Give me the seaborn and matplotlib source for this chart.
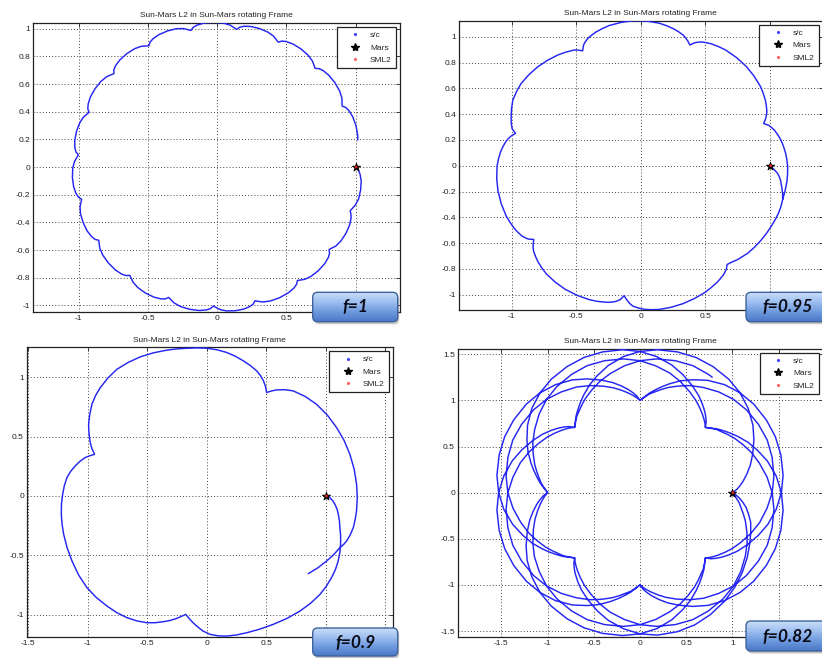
import numpy as np
import pandas as pd
import matplotlib
matplotlib.use("Agg")
import matplotlib.pyplot as plt
import seaborn as sns
from matplotlib.patches import FancyBboxPatch
from matplotlib.lines import Line2D
from matplotlib.ticker import FixedLocator, FixedFormatter
from matplotlib.colors import LinearSegmentedColormap

sns.set_style("white")
plt.rcParams["font.family"] = ["Liberation Sans", "DejaVu Sans"]
plt.rcParams["axes.unicode_minus"] = False

# ---------------- data (polar readings: angle in degrees, radius) ----------------
# f = 1
th_f1 = [0, -1.1, -2.7, -5.5, -9.1, -12.7, -15.5, -18.2,
         -19.3, -20.9, -23.7, -27.3, -30.9, -33.7, -36.4,
         -37.5, -39.1, -41.9, -45.6, -49.2, -52.0, -54.7,
         -55.9, -57.6, -60.6, -64.5, -68.3, -71.3, -74.2,
         -75.2, -76.8, -79.4, -82.9, -86.3, -88.9, -91.5,
         -92.6, -94.3, -97.1, -100.9, -104.7, -107.5, -110.3,
         -111.4, -113.1, -115.9, -119.6, -123.3, -126.0, -128.8,
         -130.0, -131.7, -134.6, -138.5, -142.4, -145.3, -148.2,
         -149.3, -151.0, -153.7, -157.4, -161.1, -163.8, -166.6,
         -167.7, -169.4, -172.1, -175.8, -179.5, -182.2, -185.0,
         -186.1, -187.7, -190.5, -194.1, -197.7, -200.5, -203.2,
         -204.3, -206.1, -208.9, -212.7, -216.5, -219.4, -222.2,
         -223.3, -225.0, -227.8, -231.5, -235.2, -237.9, -240.7,
         -241.8, -243.5, -246.3, -250.0, -253.7, -256.4, -259.2,
         -260.3, -262.0, -264.9, -268.7, -272.4, -275.3, -278.1,
         -279.2, -280.8, -283.5, -287.1, -290.7, -293.4, -296.1,
         -297.2, -298.9, -301.7, -305.5, -309.2, -312.0, -314.8,
         -316.0, -317.7, -320.6, -324.4, -328.2, -331.1, -334.0,
         -335.1, -336.8, -339.6, -343.3, -347.0, -349.1]
r_f1 = [1.0, 1.02, 1.033, 1.046, 1.05, 1.048, 1.035, 1.012,
        1.024, 1.036, 1.045, 1.047, 1.042, 1.03, 1.005,
        1.024, 1.036, 1.045, 1.047, 1.042, 1.03, 1.005,
        1.024, 1.036, 1.045, 1.047, 1.042, 1.03, 1.005,
        1.024, 1.036, 1.045, 1.047, 1.042, 1.03, 1.005,
        1.024, 1.036, 1.045, 1.047, 1.042, 1.03, 1.005,
        1.024, 1.036, 1.045, 1.047, 1.042, 1.03, 1.005,
        1.024, 1.036, 1.045, 1.047, 1.042, 1.03, 1.005,
        1.024, 1.036, 1.045, 1.047, 1.042, 1.03, 1.005,
        1.024, 1.036, 1.045, 1.047, 1.042, 1.03, 1.005,
        1.024, 1.036, 1.045, 1.047, 1.042, 1.03, 1.005,
        1.024, 1.036, 1.045, 1.047, 1.042, 1.03, 1.005,
        1.024, 1.036, 1.045, 1.047, 1.042, 1.03, 1.005,
        1.024, 1.036, 1.045, 1.047, 1.042, 1.03, 1.005,
        1.024, 1.036, 1.045, 1.047, 1.042, 1.03, 1.005,
        1.024, 1.036, 1.045, 1.047, 1.042, 1.03, 1.005,
        1.024, 1.036, 1.045, 1.047, 1.042, 1.03, 1.005,
        1.024, 1.036, 1.045, 1.047, 1.042, 1.03, 1.005,
        1.024, 1.036, 1.045, 1.047, 1.042, 1.035]

# f = 0.95
th_f95 = [0, -1.5, -3.2, -4.6, -6.0, -8.5, -11.0, -13.4, -16.2, -19.0, -22.0, -25.1, -28.5, -32.0, -35.7, -39.4, -42.0, -44.0, -47.0, -48.9,
          -50.4, -52.8, -54.8, -56.9, -59.9, -62.9, -68.0, -73.1, -78.0, -82.8, -85.7, -88.6, -90.9, -93.2, -94.5, -95.7, -96.5, -97.3,
          -98.7, -99.9, -101.1, -103.1, -105.2, -108.2, -111.2, -116.3, -121.4, -126.2, -131.0, -133.9, -136.7, -139.0, -141.3, -142.6, -143.8, -145.4,
          -146.9, -148.1, -149.3, -151.4, -153.5, -156.6, -159.6, -164.8, -170.0, -174.9, -179.8, -182.8, -185.7, -188.0, -190.3, -191.6, -192.9, -194.5,
          -196.0, -198.3, -200.7, -203.9, -207.2, -210.9, -214.5, -219.2, -223.9, -228.6, -233.2, -236.7, -240.2, -241.7, -243.2,
          -244.7, -245.9, -247.1, -249.2, -251.3, -254.4, -257.4, -262.6, -267.7, -272.6, -277.4, -280.4, -283.3, -285.6, -287.9, -289.2, -290.5, -292.1,
          -293.6, -294.8, -296.0, -298.1, -300.2, -303.3, -306.3, -311.5, -316.6, -321.5, -326.3, -329.3, -332.2, -334.5, -336.8, -338.1, -339.4, -341.0,
          -342.5, -343.8, -345.0, -347.3, -349.6, -352.3, -355.0, -357.7, -360.4, -363.2, -366.0, -369.7, -373.4]
r_f95 = [1.0, 1.03, 1.061, 1.076, 1.088, 1.103, 1.118, 1.129, 1.13, 1.128, 1.121, 1.113, 1.105, 1.095, 1.083, 1.07, 1.055, 1.045, 1.025, 1.016,
         1.04, 1.06, 1.07, 1.08, 1.09, 1.1, 1.11, 1.118, 1.122, 1.123, 1.119, 1.113, 1.103, 1.09, 1.072, 1.05, 1.033, 1.016,
         1.05, 1.064, 1.075, 1.087, 1.095, 1.105, 1.112, 1.119, 1.122, 1.119, 1.112, 1.102, 1.09, 1.077, 1.062, 1.048, 1.032, 1.006,
         1.04, 1.055, 1.068, 1.081, 1.092, 1.103, 1.112, 1.119, 1.122, 1.119, 1.112, 1.102, 1.09, 1.076, 1.06, 1.046, 1.03, 1.001,
         1.035, 1.056, 1.072, 1.094, 1.113, 1.12, 1.124, 1.117, 1.106, 1.09, 1.072, 1.054, 1.034, 1.018, 0.998,
         1.035, 1.052, 1.065, 1.08, 1.092, 1.104, 1.114, 1.122, 1.126, 1.122, 1.114, 1.104, 1.092, 1.08, 1.065, 1.051, 1.035, 1.01,
         1.04, 1.055, 1.068, 1.081, 1.092, 1.103, 1.112, 1.119, 1.122, 1.119, 1.112, 1.102, 1.09, 1.077, 1.062, 1.048, 1.032, 1.006,
         1.04, 1.056, 1.07, 1.088, 1.103, 1.115, 1.125, 1.132, 1.137, 1.138, 1.138, 1.134, 1.129]

# f = 0.9
th_f9 = [0, -0.8, -2.2, -3.7, -5.7, -7.9, -10.6, -13.4, -16.6, -19.9, -23.1, -26.4, -29.8, -33.3, -37.2, -41.1,
         -46.0, -51.1, -56.8, -62.7, -68.2, -73.7, -77.8, -81.9, -85.3, -88.6, -91.6, -94.4, -96.4, -98.2, -100.0,
         -103.7, -106.3, -109.0, -112.1, -115.2, -119.2, -123.2, -127.6, -132.1, -137.3, -142.5, -148.3, -154.2,
         -159.6, -165.0, -168.9, -172.8, -176.8, -180.7, -184.1, -187.5, -190.2, -192.9, -195.3, -197.6, -199.0, -200.4,
         -202.5, -204.5, -206.5, -208.9, -211.3, -215.0, -218.7, -222.1, -225.6, -230.1, -234.7, -239.6, -244.5,
         -249.6, -254.7, -258.5, -262.3, -266.2, -270.0, -274.0, -277.9, -281.5, -285.1, -288.4, -291.7, -294.0,
         -296.2, -298.2, -300.0,
         -301.6, -303.3, -306.3, -309.4, -314.7, -320.1, -326.1, -332.2, -337.9, -343.7, -349.6, -355.5, -360.6,
         -365.7, -369.0, -372.2, -375.0, -377.9, -379.6, -381.3, -385.0, -388.6, -393.0, -397.5]
r_f9 = [1.0, 1.035, 1.06, 1.079, 1.1, 1.116, 1.134, 1.15, 1.174, 1.196, 1.216, 1.233, 1.246, 1.254, 1.26, 1.262,
        1.256, 1.246, 1.232, 1.217, 1.207, 1.2, 1.197, 1.192, 1.182, 1.166, 1.138, 1.099, 1.07, 1.042, 1.013,
        1.061, 1.092, 1.12, 1.152, 1.18, 1.205, 1.225, 1.24, 1.25, 1.262, 1.269, 1.266, 1.258,
        1.252, 1.245, 1.239, 1.232, 1.223, 1.211, 1.2, 1.185, 1.163, 1.134, 1.105, 1.071, 1.04, 1.006,
        1.045, 1.075, 1.101, 1.132, 1.162, 1.2, 1.236, 1.26, 1.278, 1.295, 1.307, 1.304, 1.298,
        1.286, 1.273, 1.264, 1.255, 1.25, 1.244, 1.234, 1.22, 1.201, 1.179, 1.158, 1.134, 1.11,
        1.08, 1.045, 1.006,
        1.038, 1.069, 1.11, 1.145, 1.178, 1.203, 1.221, 1.234, 1.245, 1.253, 1.259, 1.263, 1.265,
        1.265, 1.263, 1.26, 1.25, 1.235, 1.22, 1.2, 1.175, 1.146, 1.112, 1.075]

# f = 0.82  -- first series of loops
th_f82_a = [0, -1.5, -3, -5.5, -8, -11.5, -15, -20, -25, -31, -38, -45, -52, -60, -67.5, -75, -83, -90, -97, -104, -110, -116, -121, -125, -128.5, -131, -133, -135,
            -136.5, -138, -140.5, -143, -146.5, -150, -155, -160, -166, -173, -180, -187, -195, -202.5, -210, -218, -225, -232, -239, -245, -251, -256, -260, -263.5, -266, -268, -270,
            -271.5, -273, -275.5, -278, -281.5, -285, -290, -295, -301, -308, -315, -322, -330, -337.5, -345, -353, -360, -367, -374, -380, -386, -391, -395, -398.5, -401, -403, -405,
            -406.5, -408, -410.5, -413, -416.5, -420, -425, -430, -436, -443, -450, -457, -465, -472.5, -480, -488, -495, -502, -509, -515, -521, -526, -530, -533.5, -536, -538, -540,
            -541.5, -543, -545.5, -548, -551.5, -555, -560, -565, -571, -578, -585, -592, -600, -607.5, -615, -623, -630, -637, -644, -650, -656, -661, -665, -668.5, -671, -673, -675,
            -676.5, -678, -680.5, -683, -686.5, -690, -695, -700, -706, -713, -720, -727, -735, -742.5, -750, -758, -765, -772, -779, -785, -791, -796, -800, -803.5, -806, -808, -810,
            -811.5, -813, -815.5, -818, -821.5, -825, -830, -835, -841, -848, -855, -862, -870, -877.5, -885, -893, -900, -907, -914, -920, -926, -931, -935, -938.5, -941, -943, -945,
            -946.5, -948, -950.5, -953, -956.5, -960, -965, -970, -976, -983, -990, -997, -1005, -1012.5, -1020, -1028, -1035, -1042, -1049, -1055, -1061, -1066, -1070, -1073.5, -1076, -1078, -1080]
r_f82_a = [1.0, 1.04, 1.075, 1.12, 1.16, 1.20, 1.24, 1.275, 1.31, 1.355, 1.405, 1.45, 1.49, 1.525, 1.55, 1.56, 1.555, 1.53, 1.485, 1.425, 1.36, 1.29, 1.23, 1.175, 1.125, 1.085, 1.05, 1.0,
           1.022, 1.045, 1.085, 1.12, 1.17, 1.22, 1.29, 1.35, 1.42, 1.485, 1.53, 1.56, 1.578, 1.585, 1.578, 1.56, 1.53, 1.485, 1.425, 1.36, 1.29, 1.23, 1.175, 1.125, 1.085, 1.05, 1.0,
           1.022, 1.045, 1.085, 1.12, 1.17, 1.22, 1.29, 1.35, 1.42, 1.485, 1.53, 1.56, 1.578, 1.585, 1.578, 1.56, 1.53, 1.485, 1.425, 1.36, 1.29, 1.23, 1.175, 1.125, 1.085, 1.05, 1.0,
           1.022, 1.045, 1.085, 1.12, 1.17, 1.22, 1.29, 1.35, 1.42, 1.485, 1.53, 1.56, 1.578, 1.585, 1.578, 1.56, 1.53, 1.485, 1.425, 1.36, 1.29, 1.23, 1.175, 1.125, 1.085, 1.05, 1.0,
           1.022, 1.045, 1.085, 1.12, 1.17, 1.22, 1.29, 1.35, 1.42, 1.485, 1.53, 1.56, 1.578, 1.585, 1.578, 1.56, 1.53, 1.485, 1.425, 1.36, 1.29, 1.23, 1.175, 1.125, 1.085, 1.05, 1.0,
           1.022, 1.045, 1.085, 1.12, 1.17, 1.22, 1.29, 1.35, 1.42, 1.485, 1.53, 1.56, 1.578, 1.585, 1.578, 1.56, 1.53, 1.485, 1.425, 1.36, 1.29, 1.23, 1.175, 1.125, 1.085, 1.05, 1.0,
           1.022, 1.045, 1.085, 1.12, 1.17, 1.22, 1.29, 1.35, 1.42, 1.485, 1.53, 1.56, 1.578, 1.585, 1.578, 1.56, 1.53, 1.485, 1.425, 1.36, 1.29, 1.23, 1.175, 1.125, 1.085, 1.05, 1.0,
           1.022, 1.045, 1.085, 1.12, 1.17, 1.22, 1.29, 1.35, 1.42, 1.485, 1.53, 1.56, 1.578, 1.585, 1.578, 1.56, 1.53, 1.485, 1.425, 1.36, 1.29, 1.23, 1.175, 1.125, 1.085, 1.05, 1.0]
# f = 0.82  -- second series of loops (ends near (0.79, 1.26))
th_f82_b = [-1.5, -3, -5.5, -8, -11.5, -15, -20, -25, -31, -38, -45, -52, -60, -67.5, -75, -83, -90, -97, -104, -110, -116, -121, -125, -128.5, -131, -133, -135,
            -136.5, -138, -140.5, -143, -146.5, -150, -155, -160, -166, -173, -180, -187, -195, -202.5, -210, -218, -225, -232, -239, -245, -251, -256, -260, -263.5, -266, -268, -270,
            -271.5, -273, -275.5, -278, -281.5, -285, -290, -295, -301, -308, -315, -322, -330, -337.5, -345, -353, -360, -367, -374, -380, -386, -391, -395, -398.5, -401, -403, -405,
            -406.5, -408, -410.5, -413, -416.5, -420, -425, -430, -436, -443, -450, -457, -465, -472.5, -480, -488, -495, -502, -509, -515, -521, -526, -530, -533.5, -536, -538, -540,
            -541.5, -543, -545.5, -548, -551.5, -555, -560, -565, -571, -578, -585, -592, -600, -607.5, -615, -623, -630, -637, -644, -650, -656, -661, -665, -668.5, -671, -673, -675,
            -676.5, -678, -680.5, -683, -686.5, -690, -695, -700, -706, -713, -720, -727, -735, -742.5, -750, -758, -765, -772, -779, -785, -791, -796, -800, -803.5, -806, -808, -810,
            -811.5, -813, -815.5, -818, -821.5, -825, -830, -835, -841, -848, -855, -862, -870, -877.5, -885, -893, -900, -907, -914, -920, -926, -931, -935, -938.5, -941, -943, -945,
            -946.5, -948, -950.5, -953, -956.5, -960, -965, -970, -976, -983, -990, -997, -1005, -1012.5, -1020, -1022]
r_f82_b = [1.02, 1.04, 1.075, 1.10, 1.14, 1.18, 1.23, 1.28, 1.33, 1.385, 1.43, 1.46, 1.48, 1.49, 1.48, 1.46, 1.43, 1.385, 1.335, 1.28, 1.22, 1.17, 1.125, 1.085, 1.055, 1.03, 1.0,
           1.02, 1.04, 1.075, 1.10, 1.14, 1.18, 1.23, 1.28, 1.33, 1.385, 1.43, 1.46, 1.48, 1.49, 1.48, 1.46, 1.43, 1.385, 1.335, 1.28, 1.22, 1.17, 1.125, 1.085, 1.055, 1.03, 1.0,
           1.02, 1.04, 1.075, 1.10, 1.14, 1.18, 1.23, 1.28, 1.33, 1.385, 1.43, 1.46, 1.48, 1.49, 1.48, 1.46, 1.43, 1.385, 1.335, 1.28, 1.22, 1.17, 1.125, 1.085, 1.055, 1.03, 1.0,
           1.02, 1.04, 1.075, 1.10, 1.14, 1.18, 1.23, 1.28, 1.33, 1.385, 1.43, 1.46, 1.48, 1.49, 1.48, 1.46, 1.43, 1.385, 1.335, 1.28, 1.22, 1.17, 1.125, 1.085, 1.055, 1.03, 1.0,
           1.02, 1.04, 1.075, 1.10, 1.14, 1.18, 1.23, 1.28, 1.33, 1.385, 1.43, 1.46, 1.48, 1.49, 1.48, 1.46, 1.43, 1.385, 1.335, 1.28, 1.22, 1.17, 1.125, 1.085, 1.055, 1.03, 1.0,
           1.02, 1.04, 1.075, 1.10, 1.14, 1.18, 1.23, 1.28, 1.33, 1.385, 1.43, 1.46, 1.48, 1.49, 1.48, 1.46, 1.43, 1.385, 1.335, 1.28, 1.22, 1.17, 1.125, 1.085, 1.055, 1.03, 1.0,
           1.02, 1.04, 1.075, 1.10, 1.14, 1.18, 1.23, 1.28, 1.33, 1.385, 1.43, 1.46, 1.48, 1.49, 1.48, 1.46, 1.43, 1.385, 1.335, 1.28, 1.22, 1.17, 1.125, 1.085, 1.055, 1.03, 1.0,
           1.02, 1.04, 1.075, 1.10, 1.14, 1.18, 1.23, 1.28, 1.33, 1.385, 1.43, 1.46, 1.48, 1.49, 1.48, 1.475]

mars_x, mars_y = [1.0], [0.0]
sml2_x, sml2_y = [1.005], [0.0]

panel_title = "Sun-Mars L2 in Sun-Mars rotating Frame"
legend_labels = ["s/c", "Mars", "SML2"]
f_labels = ["f=1", "f=0.95", "f=0.9", "f=0.82"]

ticks_02 = [-1, -0.8, -0.6, -0.4, -0.2, 0, 0.2, 0.4, 0.6, 0.8, 1]
ticks_02_lbl = ["-1", "-0.8", "-0.6", "-0.4", "-0.2", "0", "0.2", "0.4", "0.6", "0.8", "1"]
ticks_x1 = [-1, -0.5, 0, 0.5, 1]
ticks_x1_lbl = ["-1", "-0.5", "0", "0.5", ""]          # "1" hidden by the f= box
ticks_15 = [-1.5, -1, -0.5, 0, 0.5, 1, 1.5]
ticks_15_lbl = ["-1.5", "-1", "-0.5", "0", "0.5", "1", "1.5"]
ticks_15_lbl_f9 = ["-1.5", "-1", "-0.5", "0", "0.5", "", ""]
ticks_15_lbl_f82 = ["-1.5", "-1", "-0.5", "0", "0.5", "1", ""]
ticks_y9 = [-1, -0.5, 0, 0.5, 1]
ticks_y9_lbl = ["-1", "-0.5", "0", "0.5", "1"]

for a, b in [(th_f1, r_f1), (th_f95, r_f95), (th_f9, r_f9), (th_f82_a, r_f82_a), (th_f82_b, r_f82_b)]:
    assert len(a) == len(b), (len(a), len(b))

# ---------------- layout ----------------
W, H = 822, 658
fig = plt.figure(figsize=(W / 100, H / 100), dpi=100)
fig.patch.set_facecolor("white")

panels = [
    dict(th=th_f1, r=r_f1, rect=[0.0401, 0.5258, 0.4465, 0.4392],
         xlim=(-1.329, 1.321), ylim=(-1.048, 1.041),
         xt=ticks_x1, xl=ticks_x1_lbl, yt=ticks_02, yl=ticks_02_lbl),
    dict(th=th_f95, r=r_f95, rect=[0.5580, 0.5289, 0.4430, 0.4396],
         xlim=(-1.409, 1.409), ylim=(-1.118, 1.124),
         xt=ticks_x1, xl=ticks_x1_lbl, yt=ticks_02, yl=ticks_02_lbl),
    dict(th=th_f9, r=r_f9, rect=[0.0325, 0.0315, 0.4453, 0.4407],
         xlim=(-1.513, 1.563), ylim=(-1.19, 1.252),
         xt=ticks_15, xl=ticks_15_lbl_f9, yt=ticks_y9, yl=ticks_y9_lbl),
    dict(th=th_f82_a + th_f82_b, r=r_f82_a + r_f82_b, rect=[0.5568, 0.0315, 0.4444, 0.4386],
         xlim=(-1.973, 1.98), ylim=(-1.567, 1.56),
         xt=ticks_15, xl=ticks_15_lbl_f82, yt=ticks_15, yl=ticks_15_lbl),
]

traj_color = "#2626f2"

for i, p in enumerate(panels):
    ax = fig.add_axes(p["rect"])
    th = np.deg2rad(np.array(p["th"], dtype=float))
    rr = np.array(p["r"], dtype=float)
    df = pd.DataFrame({"x": rr * np.cos(th), "y": rr * np.sin(th)})
    sns.lineplot(data=df, x="x", y="y", sort=False, estimator=None, ax=ax,
                 color=traj_color, linewidth=1.05, legend=False, zorder=3)
    sns.scatterplot(x=mars_x, y=mars_y, ax=ax, marker="*", s=38, color="black",
                    edgecolor="black", linewidth=0.6, zorder=5, legend=False)
    sns.scatterplot(x=sml2_x, y=sml2_y, ax=ax, marker="o", s=4, color="#e02020",
                    edgecolor="none", zorder=6, legend=False)
    ax.set_xlim(*p["xlim"])
    ax.set_ylim(*p["ylim"])
    ax.xaxis.set_major_locator(FixedLocator(p["xt"]))
    ax.yaxis.set_major_locator(FixedLocator(p["yt"]))
    ax.xaxis.set_major_formatter(FixedFormatter(p["xl"]))
    ax.yaxis.set_major_formatter(FixedFormatter(p["yl"]))
    ax.set_xlabel("")
    ax.set_ylabel("")
    ax.tick_params(direction="in", length=3, width=0.6, top=True, right=True,
                   labelsize=6, pad=2, colors="#222222")
    ax.grid(True, linestyle=(0, (1, 2.2)), color="#444444", linewidth=0.7)
    ax.set_axisbelow(True)
    for s in ax.spines.values():
        s.set_color("#222222")
        s.set_linewidth(0.9)
    ax.set_title(panel_title, fontsize=6, pad=4, color="#222222")
    handles = [
        Line2D([], [], marker=".", linestyle="None", color="#4040ff", markersize=2.5),
        Line2D([], [], marker="*", linestyle="None", color="black", markersize=6),
        Line2D([], [], marker=".", linestyle="None", color="#ff6060", markersize=2.5),
    ]
    leg = ax.legend(handles, legend_labels, loc="upper right", fontsize=6,
                    frameon=True, fancybox=False, framealpha=1, edgecolor="#222222",
                    borderpad=0.5, labelspacing=0.55, handlelength=3.4,
                    handletextpad=0.1, borderaxespad=0.5)
    leg.get_frame().set_linewidth(0.9)

# ---------------- f= label boxes ----------------
label_boxes = [(312.7, 292.3, 85.0, 29.4), (746.0, 292.3, 84.0, 29.4),
               (312.7, 628.0, 85.0, 28.0), (746.0, 621.0, 84.0, 30.0)]
ov = fig.add_axes([0, 0, 1, 1], zorder=20)
ov.patch.set_visible(False)
ov.axis("off")
ov.set_xlim(0, W)
ov.set_ylim(H, 0)
cmap_lbl = LinearSegmentedColormap.from_list(
    "lbl", ["#c9ddf7", "#9dbff0", "#6d99de", "#4a78c6"])
grad = np.linspace(0, 1, 64).reshape(-1, 1)
for (x0, y0, w, h), txt in zip(label_boxes, f_labels):
    shadow = FancyBboxPatch((x0 + 1.5, y0 + 2.5), w, h,
                            boxstyle="round,pad=0,rounding_size=5",
                            facecolor="#808080", edgecolor="none", alpha=0.45, zorder=1)
    ov.add_patch(shadow)
    box = FancyBboxPatch((x0, y0), w, h, boxstyle="round,pad=0,rounding_size=5",
                         facecolor="none", edgecolor="#3f649c", linewidth=1.0, zorder=3)
    ov.add_patch(box)
    im = ov.imshow(grad, extent=[x0, x0 + w, y0 + h, y0], cmap=cmap_lbl,
                   aspect="auto", interpolation="bilinear", zorder=2)
    im.set_clip_path(box)
    ov.text(x0 + w / 2, y0 + h / 2 + 0.5, txt, ha="center", va="center",
            fontsize=12.5, fontweight="bold", fontstyle="italic",
            family=["Lato", "DejaVu Sans"], color="#0c0c18", zorder=4)
ov.set_xlim(0, W)
ov.set_ylim(H, 0)

fig.savefig("out.png", dpi=100, facecolor="white")
